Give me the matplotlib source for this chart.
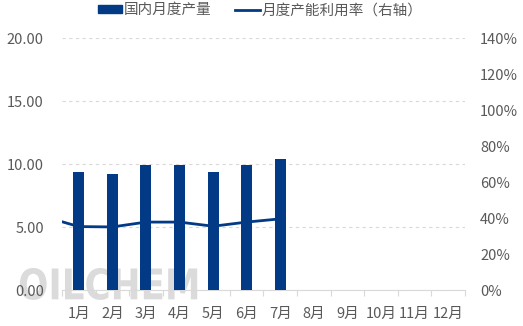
import matplotlib
matplotlib.use("Agg")
import matplotlib.pyplot as plt
from matplotlib.patches import Patch, PathPatch
from matplotlib.lines import Line2D
from matplotlib.textpath import TextPath
from matplotlib.font_manager import FontProperties
from matplotlib.transforms import Affine2D
import numpy as np

plt.rcParams['font.family'] = ['Noto Sans CJK SC', 'DejaVu Sans']

# Data
months = ["1月", "2月", "3月", "4月", "5月", "6月", "7月",
          "8月", "9月", "10月", "11月", "12月"]
output = [9.41, 9.21, 9.98, 9.98, 9.41, 9.94, 10.44]          # 国内月度产量
util_prev_dec = 38.1                                         # 上年12月产能利用率 (%)
utilization = [35.4, 35.2, 37.9, 37.9, 35.6, 37.9, 39.7]     # 月度产能利用率 (%)
left_ticks = [0, 5, 10, 15, 20]
right_ticks = [0, 20, 40, 60, 80, 100, 120, 140]

BLUE = "#033a85"
GREY_TXT = "#595959"
FS = 10.5

fig = plt.figure(figsize=(5.23, 3.26), dpi=100)
ax = fig.add_axes([0.1185, 0.1095, 0.889 - 0.1185, 0.8825 - 0.1095])
ax.patch.set_alpha(0)

x = np.arange(len(months))
ax.bar(x[:len(output)], output, width=0.33, color=BLUE, zorder=3)

ax.set_xlim(-0.5, len(months) - 0.5)
ax.set_ylim(0, 20)
ax.set_yticks(left_ticks)
ax.set_yticklabels([f"{v:.2f}" for v in left_ticks])
ax.yaxis.grid(True, linestyle=(0, (3, 3)), color="#d9d9d9", linewidth=0.8)
ax.set_axisbelow(True)

ax.set_xticks(x)
ax.set_xticklabels(months)
ax.set_xticks(np.arange(-0.5, len(months) + 0.5, 1), minor=True)
ax.tick_params(axis="x", which="major", length=0, pad=12, colors=GREY_TXT, labelsize=FS)
ax.tick_params(axis="x", which="minor", length=4, width=0.8, color="#d9d9d9")
ax.tick_params(axis="y", length=0, pad=13, colors=GREY_TXT, labelsize=FS)

for s in ["top", "left", "right"]:
    ax.spines[s].set_visible(False)
ax.spines["bottom"].set_color("#d9d9d9")
ax.spines["bottom"].set_linewidth(0.8)

ax2 = ax.twinx()
ax2.plot([-0.5] + list(x[:len(utilization)]), [util_prev_dec] + utilization,
         color=BLUE, linewidth=2, zorder=4)
ax2.set_ylim(0, 140)
ax2.set_yticks(right_ticks)
ax2.set_yticklabels([f"{v}%" for v in right_ticks])
ax2.tick_params(axis="y", length=0, pad=11, colors=GREY_TXT, labelsize=FS)
for s in ["top", "left", "right", "bottom"]:
    ax2.spines[s].set_visible(False)

# Legend
handles = [Patch(facecolor=BLUE, edgecolor=BLUE),
           Line2D([0], [0], color=BLUE, linewidth=2)]
labels = ["国内月度产量", "月度产能利用率（右轴）"]
fig.legend(handles, labels, loc="upper center", bbox_to_anchor=(0.497, 1.03),
           ncol=2, frameon=False, fontsize=FS, labelcolor=GREY_TXT,
           handlelength=1.7, handleheight=0.5, handletextpad=0.1,
           columnspacing=1.6)

# Watermark: condensed grey lettering behind the bars
tp = TextPath((0, 0), "OILCHEM", size=10,
              prop=FontProperties(family="DejaVu Sans", weight="bold"))
bb = tp.get_extents()
x0, x1, y0, y1 = 0.038, 0.377, 0.080, 0.178
wm_tf = Affine2D().translate(-bb.x0, -bb.y0).scale((x1 - x0) / bb.width,
                                                    (y1 - y0) / bb.height).translate(x0, y0)
wm = PathPatch(wm_tf.transform_path(tp), transform=fig.transFigure,
               facecolor="#cfcfcf", edgecolor="none", alpha=0.75, zorder=-1)
fig.add_artist(wm)

fig.savefig("out.png", dpi=100)
